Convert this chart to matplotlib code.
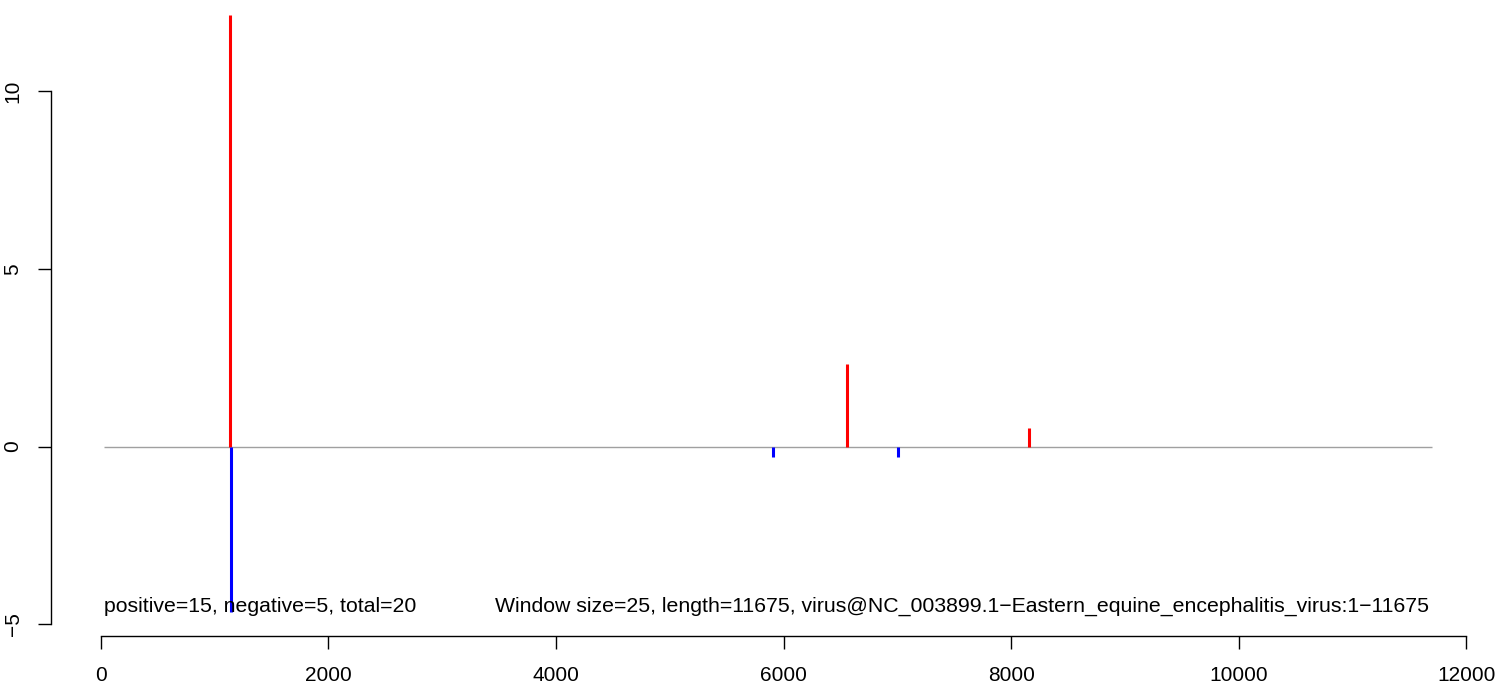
"""Window score plot: positive (red) and negative (blue) spikes along the genome."""

import matplotlib

matplotlib.use("Agg")
import matplotlib.pyplot as plt

plt.rcParams["font.family"] = ["Liberation Sans", "DejaVu Sans"]

# data
pos_x = [1140, 6558, 8156]
pos_y = [12.14, 2.32, 0.52]
neg_x = [1143, 5908, 7006]
neg_y = [-4.65, -0.29, -0.29]
baseline_x = [25, 11700]
x_ticks = [0, 2000, 4000, 6000, 8000, 10000, 12000]
y_ticks = [-5, 0, 5, 10]
left_note = "positive=15, negative=5, total=20"
right_note = ("Window size=25, length=11675, "
              "virus@NC_003899.1\u2212Eastern_equine_encephalitis_virus:1\u221211675")

fig = plt.figure(figsize=(15.06, 6.87), dpi=100)
ax = fig.add_axes([51 / 1506, 51 / 687, 1432 / 1506, 636 / 687])

ax.hlines(0, baseline_x[0], baseline_x[1], color="#A0A0A0", linewidth=1.0)
ax.vlines(pos_x, 0, pos_y, color="#FF0000", linewidth=2.2)
ax.vlines(neg_x, 0, neg_y, color="#0000FF", linewidth=2.2)

ax.text(25, -4.65, left_note, ha="left", va="baseline", fontsize=15.3)
ax.text(11675, -4.65, right_note, ha="right", va="baseline", fontsize=15.3)

ax.set_xlim(-437, 12147)
ax.set_ylim(-5.333, 12.567)

for side in ["top", "right"]:
    ax.spines[side].set_visible(False)
ax.spines["left"].set_bounds(-5, 10)
ax.spines["bottom"].set_bounds(0, 12000)
for side in ["left", "bottom"]:
    ax.spines[side].set_linewidth(1.0)

ax.set_xticks(x_ticks)
ax.set_yticks(y_ticks)
ax.tick_params(axis="both", length=9.5, width=1.0, labelsize=15, direction="out")
ax.tick_params(axis="x", pad=12)
ax.tick_params(axis="y", pad=11, labelrotation=90)
for lab in ax.get_yticklabels():
    lab.set_va("center")

fig.savefig("out.png", dpi=100, facecolor="white")
